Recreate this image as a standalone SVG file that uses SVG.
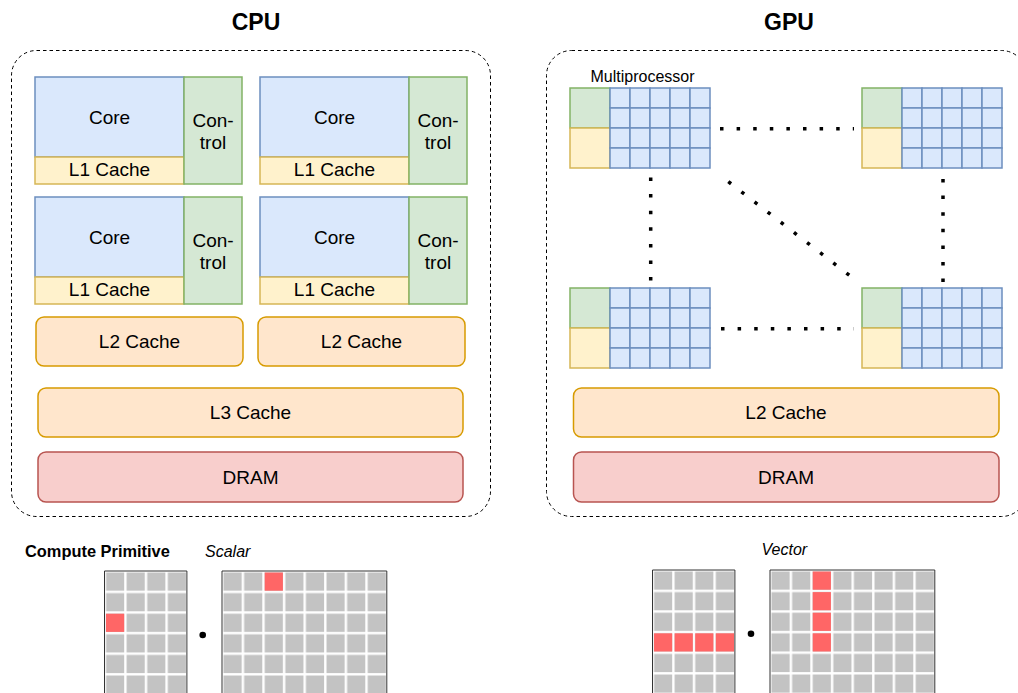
<svg xmlns="http://www.w3.org/2000/svg" width="1018" height="693" viewBox="0 0 1018 693">
  <style>
    text { font-family: "Liberation Sans", Arial, sans-serif; fill: #000; }
    .t { font-size: 19px; text-anchor: middle; }
    .title { font-size: 23px; font-weight: bold; text-anchor: middle; }
    .small { font-size: 16px; text-anchor: middle; }
    .it { font-size: 16px; font-style: italic; }
    .frame { fill: #fff; stroke: #000; stroke-width: 1; stroke-dasharray: 3.5 3; }
    .core { fill: #dae8fc; stroke: #6c8ebf; stroke-width: 1.5; }
    .ctrl { fill: #d5e8d4; stroke: #82b366; stroke-width: 1.5; }
    .l1 { fill: #fff2cc; stroke: #d6b656; stroke-width: 1.5; }
    .cache { fill: #ffe6cc; stroke: #d79b00; stroke-width: 1.5; }
    .dram { fill: #f8cecc; stroke: #b85450; stroke-width: 1.5; }
    .link { fill: none; stroke: #000; stroke-width: 3.5; stroke-dasharray: 3.5 13.1; }
    .mborder { fill: none; stroke: #333; stroke-width: 1; }
    .hot { fill: #ff6666; }
  </style>
  <defs>
    <!-- grey matrix cells, 20.6 px pitch -->
    <pattern id="cells" patternUnits="userSpaceOnUse" width="20.6" height="20.6">
      <rect x="1.5" y="1.5" width="18.2" height="18.2" fill="#c3c3c3"/>
    </pattern>
    <!-- streaming multiprocessor: control + cache + 5x4 core grid -->
    <g id="sm">
      <rect class="ctrl" x="0" y="0" width="40" height="40"/>
      <rect class="l1" x="0" y="40" width="40" height="40"/>
      <g class="core">
        <rect x="40" y="0" width="20" height="20"/><rect x="60" y="0" width="20" height="20"/><rect x="80" y="0" width="20" height="20"/><rect x="100" y="0" width="20" height="20"/><rect x="120" y="0" width="20" height="20"/>
        <rect x="40" y="20" width="20" height="20"/><rect x="60" y="20" width="20" height="20"/><rect x="80" y="20" width="20" height="20"/><rect x="100" y="20" width="20" height="20"/><rect x="120" y="20" width="20" height="20"/>
        <rect x="40" y="40" width="20" height="20"/><rect x="60" y="40" width="20" height="20"/><rect x="80" y="40" width="20" height="20"/><rect x="100" y="40" width="20" height="20"/><rect x="120" y="40" width="20" height="20"/>
        <rect x="40" y="60" width="20" height="20"/><rect x="60" y="60" width="20" height="20"/><rect x="80" y="60" width="20" height="20"/><rect x="100" y="60" width="20" height="20"/><rect x="120" y="60" width="20" height="20"/>
      </g>
    </g>
    <!-- CPU core tile: core, L1 cache and control unit -->
    <g id="cpucore">
      <rect class="core" x="0" y="0" width="149" height="80"/>
      <rect class="l1" x="0" y="80" width="149" height="27"/>
      <rect class="ctrl" x="149" y="0" width="58" height="107"/>
      <text class="t" x="74.5" y="46.5">Core</text>
      <text class="t" x="74.5" y="99">L1 Cache</text>
      <text class="t" x="178" y="49.5">Con-</text>
      <text class="t" x="178" y="71.5">trol</text>
    </g>
  </defs>

  <!-- titles -->
  <text class="title" x="256" y="29.5">CPU</text>
  <text class="title" x="789" y="29.5">GPU</text>

  <!-- CPU -->
  <g id="cpu">
    <rect class="frame" x="11.5" y="50.5" width="479" height="466" rx="25"/>
    <use id="cpu-core-1" href="#cpucore" x="35" y="77"/>
    <use id="cpu-core-2" href="#cpucore" x="260" y="77"/>
    <use id="cpu-core-3" href="#cpucore" x="35" y="197"/>
    <use id="cpu-core-4" href="#cpucore" x="260" y="197"/>
    <g id="cpu-l2-a">
      <rect class="cache" x="36" y="317" width="207" height="49" rx="8"/>
      <text class="t" x="139.5" y="348">L2 Cache</text>
    </g>
    <g id="cpu-l2-b">
      <rect class="cache" x="258" y="317" width="207" height="49" rx="8"/>
      <text class="t" x="361.5" y="348">L2 Cache</text>
    </g>
    <g id="cpu-l3">
      <rect class="cache" x="38" y="388" width="425" height="49" rx="8"/>
      <text class="t" x="250.5" y="419">L3 Cache</text>
    </g>
    <g id="cpu-dram">
      <rect class="dram" x="38" y="452" width="425" height="50" rx="8"/>
      <text class="t" x="250.5" y="483.5">DRAM</text>
    </g>
  </g>

  <!-- GPU -->
  <g id="gpu">
    <rect class="frame" x="546.5" y="50.5" width="480" height="466" rx="25"/>
    <text class="small" x="642.5" y="81.5">Multiprocessor</text>
    <use id="sm-1" href="#sm" x="570" y="88"/>
    <use id="sm-2" href="#sm" x="862" y="88"/>
    <use id="sm-3" href="#sm" x="570" y="288"/>
    <use id="sm-4" href="#sm" x="862" y="288"/>
    <g id="gpu-l2">
      <rect class="cache" x="573.5" y="388" width="425.5" height="49" rx="8"/>
      <text class="t" x="786" y="419">L2 Cache</text>
    </g>
    <g id="gpu-dram">
      <rect class="dram" x="573.5" y="452" width="425.5" height="50" rx="8"/>
      <text class="t" x="786" y="483.5">DRAM</text>
    </g>
  </g>

  <!-- interconnect between multiprocessors -->
  <g id="connectors">
    <line class="link" x1="720" y1="128.7" x2="854" y2="128.7"/>
    <line class="link" x1="721" y1="328.7" x2="854" y2="328.7"/>
    <line class="link" x1="650.7" y1="177.5" x2="650.7" y2="282"/>
    <line class="link" x1="943" y1="179" x2="943" y2="282"/>
    <line class="link" x1="728.3" y1="181.6" x2="858" y2="282"/>
  </g>

  <!-- compute primitives -->
  <g id="primitives">
    <text x="25" y="556.5" style="font-size:16.4px;font-weight:bold">Compute Primitive</text>
    <text class="it" x="205" y="556.5">Scalar</text>
    <text class="it" x="761.5" y="554.5">Vector</text>

    <!-- scalar: element x element -->
    <g id="scalar-a" transform="translate(104.5,571)">
      <rect width="82.4" height="130" fill="url(#cells)"/>
      <path class="mborder" d="M0,130 V0 H82.4 V130"/>
      <rect class="hot" x="1.5" y="42.7" width="18.2" height="18.2"/>
    </g>
    <circle cx="202.7" cy="635" r="3.3" fill="#000"/>
    <g id="scalar-b" transform="translate(222,571)">
      <rect width="164.8" height="130" fill="url(#cells)"/>
      <path class="mborder" d="M0,130 V0 H164.8 V130"/>
      <rect class="hot" x="42.7" y="1.5" width="18.2" height="18.2"/>
    </g>

    <!-- vector: row x column -->
    <g id="vector-a" transform="translate(652.5,570)">
      <rect width="82.4" height="130" fill="url(#cells)"/>
      <path class="mborder" d="M0,130 V0 H82.4 V130"/>
      <rect class="hot" x="1.5" y="63.3" width="18.2" height="18.2"/>
      <rect class="hot" x="22.1" y="63.3" width="18.2" height="18.2"/>
      <rect class="hot" x="42.7" y="63.3" width="18.2" height="18.2"/>
      <rect class="hot" x="63.3" y="63.3" width="18.2" height="18.2"/>
    </g>
    <circle cx="751" cy="633.7" r="3.3" fill="#000"/>
    <g id="vector-b" transform="translate(770,570)">
      <rect width="164.8" height="130" fill="url(#cells)"/>
      <path class="mborder" d="M0,130 V0 H164.8 V130"/>
      <rect class="hot" x="42.7" y="1.5" width="18.2" height="18.2"/>
      <rect class="hot" x="42.7" y="22.1" width="18.2" height="18.2"/>
      <rect class="hot" x="42.7" y="42.7" width="18.2" height="18.2"/>
      <rect class="hot" x="42.7" y="63.3" width="18.2" height="18.2"/>
    </g>
  </g>
</svg>
